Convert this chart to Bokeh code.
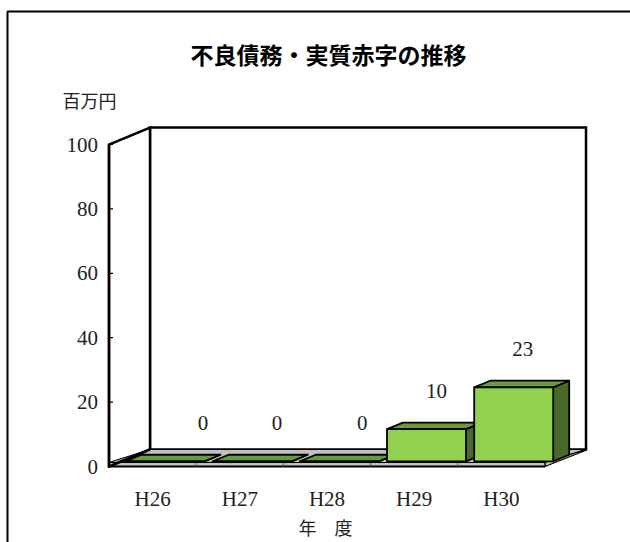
from bokeh.plotting import figure
from bokeh.models import Range1d
from bokeh.core.properties import value
from bokeh.embed import file_html
from bokeh.resources import INLINE

# ---------------- data ----------------
title_text = "不良債務・実質赤字の推移"
unit_label = "百万円"
x_title = "年　度"
years = ["H26", "H27", "H28", "H29", "H30"]
deficit = [0, 0, 0, 10, 23]
y_ticks = [0, 20, 40, 60, 80, 100]

# ---------------- layout / style ----------------
W, H = 630, 542
AX_PX = 108.5      # screen x of front value axis
CAT_PX = 87.2      # screen px per category
ZERO_PX = 466.0    # screen y of value 0 on the front plane
UNIT_PX = 3.22     # screen px per value unit
DEPTH_PX = (41.0, 17.0)  # 3-D depth vector (right, up) in px
label_nudge_px = [30, 17, 15, 2, 1]   # Excel-like data-label placement

x_start = -0.5 - AX_PX / CAT_PX
x_end = x_start + W / CAT_PX
y_end = ZERO_PX / UNIT_PX
y_start = y_end - H / UNIT_PX
DX = DEPTH_PX[0] / CAT_PX
DY = DEPTH_PX[1] / UNIT_PX


def sx(xp):
    return x_start + xp / CAT_PX


def sy(yp):
    return y_end - yp / UNIT_PX


FRONT = "#92d050"
TOP = "#6b9b38"
SIDE = "#4b6a29"
FLOOR = "#c0c0c0"
SERIF = value("Liberation Serif")
CJK = value("Noto Sans CJK JP")
SERIF_SIZE = "21px"

p = figure(width=W, height=H, output_backend="svg", toolbar_location=None,
           x_range=Range1d(x_start, x_end), y_range=Range1d(y_start, y_end),
           x_axis_type=None, y_axis_type=None, min_border=0,
           background_fill_color="white", border_fill_color="white")
p.outline_line_color = None
p.grid.visible = False

n = len(years)
ymax = y_ticks[-1]
left = -0.5
right = n - 0.5

# outer chart frame (left and top edges visible)
p.line([sx(7), sx(7), sx(640)], [sy(560), sy(11), sy(11)],
       line_color="black", line_width=2)

# back wall
p.patch([left + DX, right + DX, right + DX, left + DX],
        [DY, DY, ymax + DY, ymax + DY],
        fill_color="white", line_color="black", line_width=2.5, line_join="miter")
# left side wall
p.patch([left, left, left + DX, left + DX],
        [0, ymax, ymax + DY, DY],
        fill_color="white", line_color="black", line_width=2.5, line_join="miter")

# floor slab
t = 1.25
p.patch([left, right, right + DX, left + DX], [t, t, DY, DY],
        fill_color=FLOOR, line_color="black", line_width=1.2)
p.patch([right, right + DX, right + DX, right], [0, DY - t * 0.2, DY, t],
        fill_color=FLOOR, line_color="black", line_width=1.2)
p.quad(left=[left], right=[right], bottom=[0], top=[t],
       fill_color=FLOOR, line_color="black", line_width=1.2)
# bottom-left slanted edge
p.line([left, left + DX], [0, DY], line_color="black", line_width=2.5)
p.line([left, right], [0, 0], line_color="black", line_width=2)

# category tick marks on floor front
for k in range(1, n):
    p.segment(x0=[k - 0.5], y0=[0], x1=[k - 0.5], y1=[t],
              line_color="#555555", line_width=1)

# value axis line and ticks
p.line([left, left], [0, ymax], line_color="black", line_width=2.5)
p.segment(x0=[left] * len(y_ticks), y0=y_ticks,
          x1=[left + 4 / CAT_PX] * len(y_ticks), y1=y_ticks,
          line_color="black", line_width=1.2)
p.text(x=[left - 11 / CAT_PX] * len(y_ticks), y=y_ticks,
       text=[str(v) for v in y_ticks], text_font=SERIF, text_font_size=SERIF_SIZE,
       text_align="right", text_baseline="middle", text_color="#222222")

# bars
bar_w = 79 / CAT_PX
f0 = 0.30
fd = 0.39
for i, v in enumerate(deficit):
    x0 = i - bar_w / 2 + f0 * DX
    x1 = x0 + bar_w
    b = f0 * DY
    tp = b + v
    ddx, ddy = fd * DX, fd * DY
    p.patch([x1, x1 + ddx, x1 + ddx, x1], [b, b + ddy, tp + ddy, tp],
            fill_color=SIDE, line_color="black", line_width=1.8, line_join="round")
    p.patch([x0, x1, x1 + ddx, x0 + ddx], [tp, tp, tp + ddy, tp + ddy],
            fill_color=TOP, line_color="black", line_width=1.8, line_join="round")
    p.quad(left=[x0], right=[x1], bottom=[b], top=[tp],
           fill_color=FRONT, line_color="black", line_width=1.8)

# data labels
lab_x = [i + (f0 + fd / 2) * DX + label_nudge_px[i] / CAT_PX for i in range(n)]
lab_y = [f0 * DY + v + 38 / UNIT_PX for v in deficit]
p.text(x=lab_x, y=lab_y, text=[str(v) for v in deficit], text_font=SERIF,
       text_font_size=SERIF_SIZE, text_align="center", text_baseline="middle",
       text_color="#222222")

# category labels
p.text(x=list(range(n)), y=[sy(498)] * n, text=years, text_font=SERIF,
       text_font_size=SERIF_SIZE, text_align="center", text_baseline="middle",
       text_color="#222222")

# axis titles and chart title
p.text(x=[sx(325)], y=[sy(526)], text=[x_title], text_font=CJK,
       text_font_size="18px", text_align="center", text_baseline="middle",
       text_color="#222222")
p.text(x=[sx(89)], y=[sy(99)], text=[unit_label], text_font=CJK,
       text_font_size="18px", text_align="center", text_baseline="middle",
       text_color="#222222")
p.text(x=[sx(328)], y=[sy(53)], text=[title_text], text_font=CJK,
       text_font_size="23px", text_font_style="bold", text_align="center",
       text_baseline="middle", text_color="black")

open("out.html", "w").write(file_html(p, INLINE))
